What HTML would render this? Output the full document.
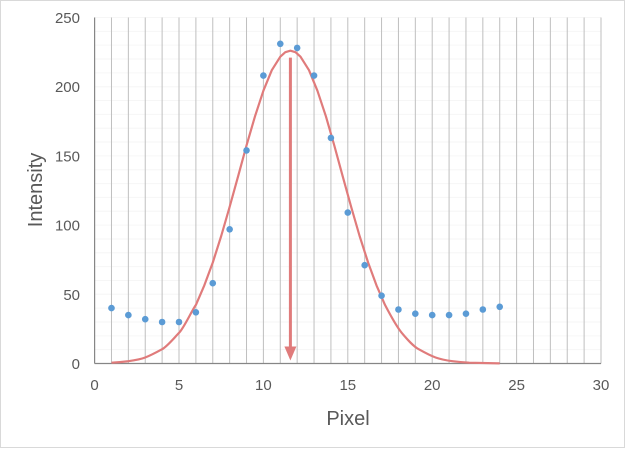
<!DOCTYPE html><html><head><style>body{margin:0;background:#fff}</style></head><body>
<svg width="625" height="448" xmlns="http://www.w3.org/2000/svg" font-family="Liberation Sans, sans-serif">
<rect x="0.5" y="0.5" width="624" height="447" fill="#fff" stroke="#d9d9d9"/>
<path stroke="#f6f6f6" fill="none" d="M94.6 349.66H601M94.6 335.82H601M94.6 321.98H601M94.6 308.14H601M94.6 294.3H601M94.6 280.46H601M94.6 266.62H601M94.6 252.78H601M94.6 238.94H601M94.6 225.1H601M94.6 211.26H601M94.6 197.42H601M94.6 183.58H601M94.6 169.74H601M94.6 155.9H601M94.6 142.06H601M94.6 128.22H601M94.6 114.38H601M94.6 100.54H601M94.6 86.7H601M94.6 72.86H601M94.6 59.02H601M94.6 45.18H601M94.6 31.34H601M94.6 17.5H601"/>
<path stroke="#bfbfbf" fill="none" d="M111.48 17.5V363.5M128.36 17.5V363.5M145.24 17.5V363.5M162.12 17.5V363.5M179 17.5V363.5M195.88 17.5V363.5M212.76 17.5V363.5M229.64 17.5V363.5M246.52 17.5V363.5M263.4 17.5V363.5M280.28 17.5V363.5M297.16 17.5V363.5M314.04 17.5V363.5M330.92 17.5V363.5M347.8 17.5V363.5M364.68 17.5V363.5M381.56 17.5V363.5M398.44 17.5V363.5M415.32 17.5V363.5M432.2 17.5V363.5M449.08 17.5V363.5M465.96 17.5V363.5M482.84 17.5V363.5M499.72 17.5V363.5M516.6 17.5V363.5M533.48 17.5V363.5M550.36 17.5V363.5M567.24 17.5V363.5M584.12 17.5V363.5M601 17.5V363.5"/>
<line x1="94.6" x2="94.6" y1="17.5" y2="363.5" stroke="#868686" stroke-width="1.2"/>
<line x1="94.6" x2="601" y1="363.5" y2="363.5" stroke="#868686" stroke-width="1.2"/>
<g font-size="15" fill="#595959" text-anchor="end">
<text x="80" y="369">0</text><text x="80" y="299.8">50</text><text x="80" y="230.6">100</text><text x="80" y="161.4">150</text><text x="80" y="92.2">200</text><text x="80" y="23">250</text>
</g>
<g font-size="15" fill="#595959" text-anchor="middle">
<text x="94.6" y="390">0</text><text x="179" y="390">5</text><text x="263.4" y="390">10</text><text x="347.8" y="390">15</text><text x="432.2" y="390">20</text><text x="516.6" y="390">25</text><text x="601" y="390">30</text>
</g>
<path fill="none" stroke="#e07b7b" stroke-width="2.2" stroke-linejoin="round" d="M111.5,362.7 C120,362.3 128.4,361.2 128.4,361.2 S140,359.5 145.2,357.5 S157,352 162.1,349.2 S174,338 179,332.9 S191,312 195.9,304.9 L204.3,285.4 212.8,262.5 221.2,236 229.6,207 238.1,176.3 246.5,145.5 255,116.3 263.4,90.7 271.8,70.2 280.3,56.7 285.3,52.2 290.4,50.7 295.5,52.2 300.5,56.7 309,70.2 317.4,90.7 325.9,116.3 334.3,145.5 342.7,176.3 351.2,207 359.6,236 368.1,262.5 376.5,285.4 385,304.9 S396,326 401.8,332.9 S413,346 418.7,349.2 S430,355.5 435.6,357.5 S447,360.5 452.5,361.2 S464,362.4 469.3,362.7 L499.7,363.4"/>
<line x1="290.4" x2="290.4" y1="57.6" y2="347" stroke="#e07b7b" stroke-width="3"/>
<polygon points="284.4,346.5 296.4,346.5 290.4,360.5" fill="#e07b7b"/>
<g fill="#5b9bd5">
<circle cx="111.48" cy="308.1" r="3.3"/><circle cx="128.36" cy="315.1" r="3.3"/><circle cx="145.24" cy="319.2" r="3.3"/><circle cx="162.12" cy="322" r="3.3"/><circle cx="179" cy="322" r="3.3"/><circle cx="195.88" cy="312.3" r="3.3"/><circle cx="212.76" cy="283.2" r="3.3"/><circle cx="229.64" cy="229.3" r="3.3"/><circle cx="246.52" cy="150.4" r="3.3"/><circle cx="263.4" cy="75.6" r="3.3"/><circle cx="280.28" cy="43.8" r="3.3"/><circle cx="297.16" cy="47.9" r="3.3"/><circle cx="314.04" cy="75.6" r="3.3"/><circle cx="330.92" cy="137.9" r="3.3"/><circle cx="347.8" cy="212.6" r="3.3"/><circle cx="364.68" cy="265.2" r="3.3"/><circle cx="381.56" cy="295.7" r="3.3"/><circle cx="398.44" cy="309.5" r="3.3"/><circle cx="415.32" cy="313.7" r="3.3"/><circle cx="432.2" cy="315.1" r="3.3"/><circle cx="449.08" cy="315.1" r="3.3"/><circle cx="465.96" cy="313.7" r="3.3"/><circle cx="482.84" cy="309.5" r="3.3"/><circle cx="499.72" cy="306.8" r="3.3"/>
</g>
<text x="348" y="425" font-size="20" fill="#595959" text-anchor="middle">Pixel</text>
<text transform="translate(42,190) rotate(-90)" font-size="20" fill="#595959" text-anchor="middle">Intensity</text>
</svg></body></html>
